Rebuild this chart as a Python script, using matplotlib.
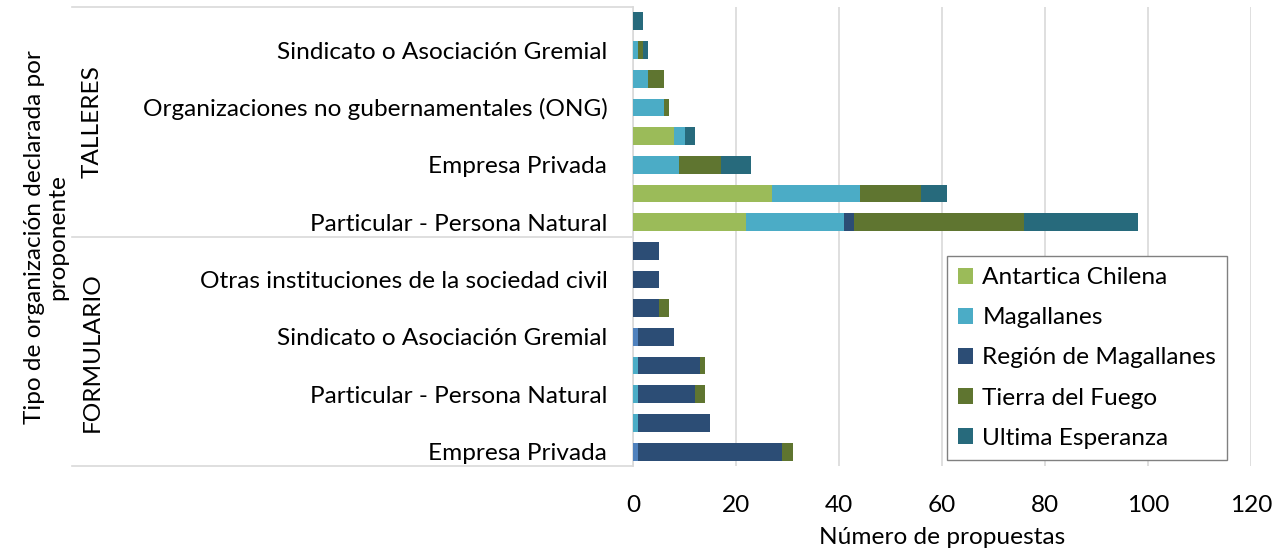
import matplotlib
matplotlib.use("Agg")
import matplotlib.pyplot as plt
from matplotlib.lines import Line2D
from matplotlib.patches import Patch
import numpy as np

plt.rcParams['font.family'] = ['Lato', 'DejaVu Sans']

# Categories bottom -> top (FORMULARIO first, then TALLERES)
groups = ["FORMULARIO", "TALLERES"]
formulario_cats = ["Empresa Privada", "Institución académica", "Particular - Persona Natural",
                   "Organizaciones no gubernamentales (ONG)", "Sindicato o Asociación Gremial",
                   "Organismo público", "Otras instituciones de la sociedad civil", "Junta de vecinos"]
talleres_cats = ["Particular - Persona Natural", "Otras instituciones de la sociedad civil",
                 "Empresa Privada", "Institución académica", "Organizaciones no gubernamentales (ONG)",
                 "Organismo público", "Sindicato o Asociación Gremial", "Junta de vecinos"]
categories = formulario_cats + talleres_cats

series_names = ["Sin especificar", "Antartica Chilena", "Magallanes", "Región de Magallanes",
                "Tierra del Fuego", "Ultima Esperanza"]
sin_especificar = [1, 0, 0, 0, 1, 0, 0, 0] + [0, 0, 0, 0, 0, 0, 0, 0]
antartica = [0, 0, 0, 0, 0, 0, 0, 0] + [22, 27, 0, 8, 0, 0, 0, 0]
magallanes = [0, 1, 1, 1, 0, 0, 0, 0] + [19, 17, 9, 2, 6, 3, 1, 0]
region = [28, 14, 11, 12, 7, 5, 5, 5] + [2, 0, 0, 0, 0, 0, 0, 0]
tierra_fuego = [2, 0, 2, 1, 0, 2, 0, 0] + [33, 12, 8, 0, 1, 3, 1, 0]
ultima = [0, 0, 0, 0, 0, 0, 0, 0] + [22, 5, 6, 2, 0, 0, 1, 2]
series_values = [sin_especificar, antartica, magallanes, region, tierra_fuego, ultima]
colors = ["#4f81bd", "#9bbb59", "#4bacc6", "#2c4d75", "#5f7530", "#276a7c"]

FS = 17.6
W, H = 1283, 554
fig = plt.figure(figsize=(W / 100, H / 100), dpi=100)
left, right, top, bottom = 633, 1251, 7, 466
ax = fig.add_axes([left / W, 1 - bottom / H, (right - left) / W, (bottom - top) / H])

y = np.arange(len(categories))
cum = np.zeros(len(categories))
for name, vals, c in zip(series_names, series_values, colors):
    v = np.array(vals, dtype=float)
    ax.barh(y, v, left=cum, height=0.62, color=c, edgecolor='none', zorder=3)
    cum += v

ax.set_xlim(0, 120)
ax.set_ylim(-0.5, len(categories) - 0.5)
ax.set_xticks(np.arange(0, 121, 20))
ax.xaxis.grid(True, color='#d9d9d9', lw=1.2, zorder=0)
ax.set_axisbelow(True)
for s in ['top', 'right', 'bottom']:
    ax.spines[s].set_visible(False)
ax.spines['left'].set_color('#d9d9d9')
ax.spines['left'].set_linewidth(1.2)

# Show every other category label (as Excel does)
ax.set_yticks(y[::2])
ax.set_yticklabels([categories[i] for i in y[::2]], fontsize=FS, color='#000000')
ax.tick_params(axis='y', length=0, pad=18.5)
ax.tick_params(axis='x', length=0, pad=21, labelsize=FS)
ax.set_xlabel("Número de propuestas", fontsize=FS, labelpad=8)

# Group separator lines on category axis
axl = ax.get_yaxis_transform()
for yy in [-0.5, 7.5, 15.5]:
    ax.add_line(Line2D([-(left - 72) / (right - left), 0], [yy, yy], transform=axl,
                       color='#d9d9d9', lw=1.2, clip_on=False))

# Group labels
fig.text(92 / W, 1 - 122 / H, "TALLERES", rotation=90, ha='center', va='center', fontsize=FS)
fig.text(46 / W, 1 - 237 / H, "Tipo de organización declarada por\nproponente", rotation=90,
         ha='center', va='center', fontsize=FS, linespacing=1.15, multialignment='center')
fig.text(92 / W, 1 - 352 / H, "FORMULARIO", rotation=90, ha='center', va='center', fontsize=FS)

handles = [Patch(facecolor=c, edgecolor='none') for c in colors[1:]]
leg = fig.legend(handles, series_names[1:], loc='center',
                 bbox_to_anchor=(1087 / W, 1 - 358 / H), fontsize=FS,
                 frameon=True, fancybox=False, edgecolor='#808080', framealpha=1,
                 handlelength=0.6, handleheight=0.6, handletextpad=0.4,
                 labelspacing=0.78, borderpad=0.45, borderaxespad=0)
leg.get_frame().set_linewidth(1.0)

fig.savefig("out.png", dpi=100)
